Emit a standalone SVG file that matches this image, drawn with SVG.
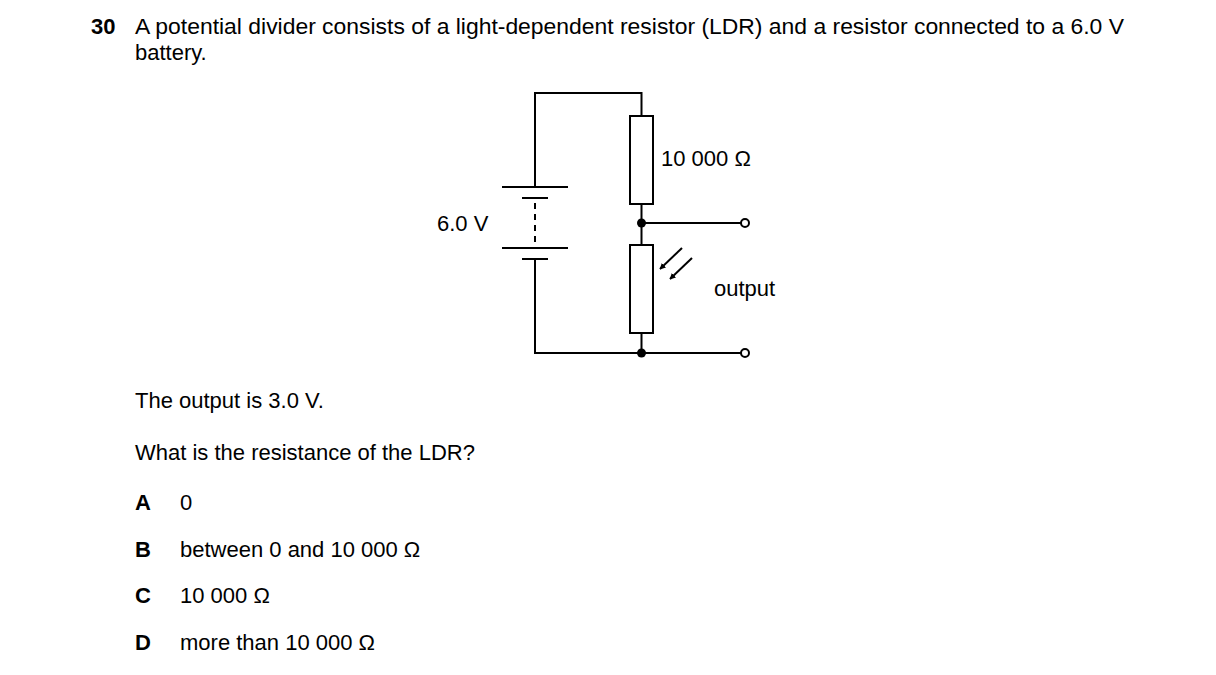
<svg xmlns="http://www.w3.org/2000/svg" width="1216" height="675" viewBox="0 0 1216 675">
<defs><marker id="ah" viewBox="0 0 10 10" refX="9" refY="5" markerWidth="6" markerHeight="6" markerUnits="userSpaceOnUse" orient="auto"><path d="M0,0 L10,5 L0,10 z" fill="#000"/></marker></defs>
<style>text{font-family:"Liberation Sans",Arial,sans-serif;font-size:22px;fill:#000}.b{font-weight:bold}.w{stroke:#000;stroke-width:2;fill:none}.r{stroke:#000;stroke-width:2;fill:#fff}</style>
<rect width="1216" height="675" fill="#fff"/>
<text x="91" y="34" class="b">30</text>
<text x="135" y="34" textLength="989" lengthAdjust="spacingAndGlyphs">A potential divider consists of a light-dependent resistor (LDR) and a resistor connected to a 6.0 V</text>
<text x="135" y="60">battery.</text>
<g id="connectors">
<path class="w" d="M535,187 V93 H641.5 V353 H535 V259 M641.5,223 H741 M641.5,353 H741"/>
</g>
<g id="battery">
<path class="w" d="M502,187 H568 M522,198 H548 M502,248 H568 M522,259 H548"/>
<path class="w" stroke-dasharray="6,5" d="M535,203 V246"/>
<text x="437" y="231">6.0 V</text>
</g>
<g id="resistor"><rect class="r" x="630" y="116" width="23" height="88"/><text x="661" y="166">10 000 Ω</text></g>
<g id="ldr"><rect class="r" x="630" y="245" width="23" height="88"/>
<line class="w" x1="682" y1="248" x2="660" y2="269" marker-end="url(#ah)" stroke-width="1.8"/>
<line class="w" x1="692" y1="258" x2="670" y2="279" marker-end="url(#ah)" stroke-width="1.8"/></g>
<g id="junctions"><circle cx="641.5" cy="223" r="4.5"/><circle cx="641.5" cy="353" r="4.5"/>
<circle cx="745" cy="223" r="4" fill="#fff" stroke="#000" stroke-width="2"/><circle cx="745" cy="353" r="4" fill="#fff" stroke="#000" stroke-width="2"/>
<text x="714" y="296">output</text></g>
<text x="135" y="408">The output is 3.0 V.</text>
<text x="135" y="460">What is the resistance of the LDR?</text>
<text x="135" y="510" class="b">A</text><text x="180" y="510">0</text>
<text x="135" y="557" class="b">B</text><text x="180" y="557">between 0 and 10 000 Ω</text>
<text x="135" y="603" class="b">C</text><text x="180" y="603">10 000 Ω</text>
<text x="135" y="650" class="b">D</text><text x="180" y="650">more than 10 000 Ω</text>
</svg>
